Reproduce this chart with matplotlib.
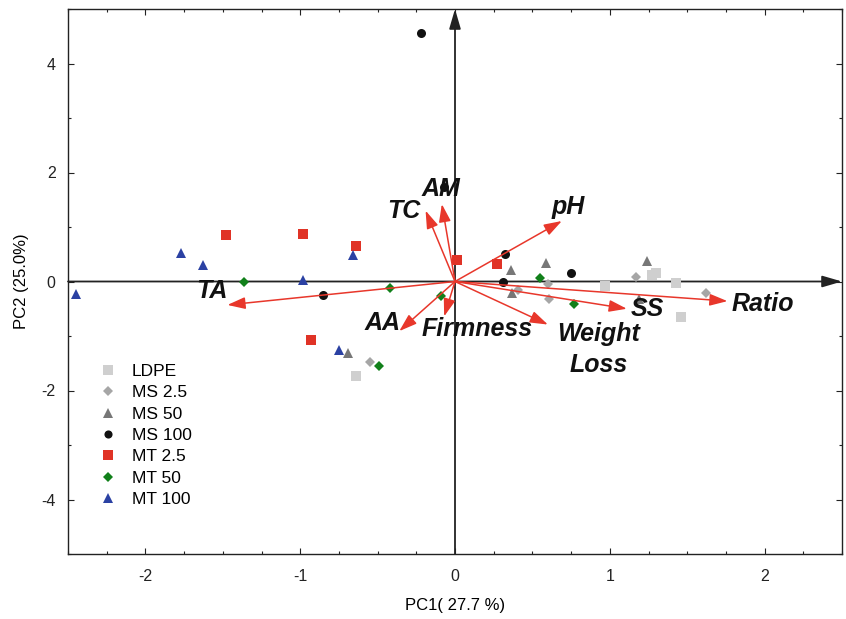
import matplotlib
matplotlib.use("Agg")
import matplotlib.pyplot as plt
from matplotlib.ticker import MultipleLocator

plt.rcParams['font.family'] = ['Liberation Sans', 'DejaVu Sans']
plt.rcParams['axes.unicode_minus'] = False

# ---- data (scores) ----
groups = ["LDPE", "MS 2.5", "MS 50", "MS 100", "MT 2.5", "MT 50", "MT 100"]
ldpe_x = [-0.64, 0.97, 1.27, 1.30, 1.43, 1.46]
ldpe_y = [-1.73, -0.08, 0.12, 0.15, -0.02, -0.65]
ms25_x = [-0.55, 0.41, 0.60, 0.61, 1.17, 1.62]
ms25_y = [-1.48, -0.16, -0.05, -0.32, 0.09, -0.21]
ms50_x = [-0.69, 0.36, 0.37, 0.59, 1.24, 1.19]
ms50_y = [-1.32, 0.21, -0.21, 0.34, 0.37, -0.32]
ms100_x = [-0.22, -0.85, -0.07, 0.32, 0.31, 0.75]
ms100_y = [4.56, -0.25, 1.73, 0.50, -0.01, 0.15]
mt25_x = [-1.48, -0.98, -0.64, -0.93, 0.01, 0.27]
mt25_y = [0.85, 0.87, 0.66, -1.08, 0.40, 0.33]
mt50_x = [-1.36, -0.42, -0.09, -0.49, 0.55, 0.77]
mt50_y = [0.00, -0.12, -0.26, -1.55, 0.07, -0.42]
mt100_x = [-2.45, -1.77, -1.63, -0.98, -0.66, -0.75]
mt100_y = [-0.23, 0.53, 0.30, 0.02, 0.48, -1.25]

# ---- loadings (arrows) ----
var_names = ["TA", "TC", "AM", "AA", "Firmness", "pH", "Weight\nLoss", "SS", "Ratio"]
load_x = [-1.47, -0.19, -0.085, -0.36, -0.07, 0.69, 0.60, 1.11, 1.76]
load_y = [-0.43, 1.30, 1.42, -0.91, -0.64, 1.11, -0.79, -0.50, -0.36]
lab_x = [-1.57, -0.33, -0.09, -0.47, 0.145, 0.73, 0.925, 1.24, 1.99]
lab_y = [-0.18, 1.30, 1.70, -0.76, -0.87, 1.37, -1.25, -0.51, -0.41]

xlabel = "PC1( 27.7 %)"
ylabel = "PC2 (25.0%)"

fig = plt.figure(figsize=(8.46, 6.19), dpi=100)
ax = fig.add_axes([68/846, 1-554/619, (842-68)/846, (554-9)/619])
ax.set_xlim(-2.5, 2.5)
ax.set_ylim(-5, 5)

# axis lines with arrows
ax.annotate('', xy=(2.5, 0), xytext=(-2.5, 0),
            arrowprops=dict(arrowstyle='-|>,head_length=1.2,head_width=0.35',
                            color='#222222', lw=1.3, shrinkA=0, shrinkB=0), zorder=1)
ax.annotate('', xy=(0, 5), xytext=(0, -5),
            arrowprops=dict(arrowstyle='-|>,head_length=1.2,head_width=0.35',
                            color='#222222', lw=1.3, shrinkA=0, shrinkB=0), zorder=1)

series = [
    (ldpe_x, ldpe_y, 's', '#cfcfcf', 7.5),
    (ms25_x, ms25_y, 'D', '#a6a6a6', 5.5),
    (ms50_x, ms50_y, '^', '#777777', 7.5),
    (ms100_x, ms100_y, 'o', '#111111', 6.5),
    (mt25_x, mt25_y, 's', '#e03326', 7.5),
    (mt50_x, mt50_y, 'D', '#11801a', 5.5),
    (mt100_x, mt100_y, '^', '#2b41a3', 7.5),
]
handles = []
for (xs, ys, m, c, ms), name in zip(series, groups):
    h, = ax.plot(xs, ys, linestyle='none', marker=m, color=c, markersize=ms,
                 markeredgewidth=0, label=name, zorder=3)
    handles.append(h)

for lx, ly in zip(load_x, load_y):
    ax.annotate('', xy=(lx, ly), xytext=(0, 0),
                arrowprops=dict(arrowstyle='-|>,head_length=0.9,head_width=0.3',
                                color='#e8372b', lw=1.1, shrinkA=0, shrinkB=0,
                                mutation_scale=12), zorder=4)

for name, tx, ty in zip(var_names, lab_x, lab_y):
    ax.text(tx, ty, name, fontsize=18, fontweight='bold', fontstyle='italic',
            ha='center', va='center', color='#111111', zorder=5, linespacing=1.4)

leg = ax.legend(handles=handles, loc='upper left', bbox_to_anchor=(0.032, 0.362),
                frameon=False, fontsize=12.5, handletextpad=0.85, labelspacing=0.36,
                handlelength=1.0, borderaxespad=0, markerscale=0.9)

ax.xaxis.set_major_locator(MultipleLocator(1))
ax.xaxis.set_minor_locator(MultipleLocator(0.25))
ax.yaxis.set_major_locator(MultipleLocator(2))
ax.yaxis.set_minor_locator(MultipleLocator(1))
ax.tick_params(which='both', direction='in', top=True, right=True, labelsize=11.5,
               width=0.8, colors='#222222')
ax.tick_params(axis='x', which='major', length=4, pad=11)
ax.tick_params(axis='y', which='major', length=4, pad=9)
ax.tick_params(which='minor', length=2.5)
for s in ax.spines.values():
    s.set_linewidth(1.0)
    s.set_color('#222222')

ax.set_xlabel(xlabel, fontsize=12, labelpad=10)
ax.set_ylabel(ylabel, fontsize=12, labelpad=9)

fig.savefig("out.png", dpi=100)
